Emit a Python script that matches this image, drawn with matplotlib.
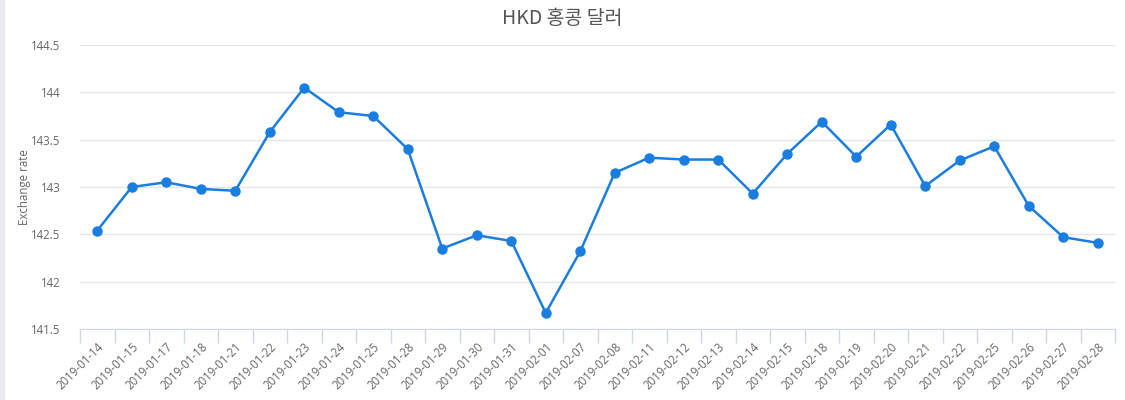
import matplotlib

matplotlib.use("Agg")
import matplotlib.pyplot as plt
from matplotlib.patches import Rectangle

dates = [
    "2019-01-14", "2019-01-15", "2019-01-17", "2019-01-18", "2019-01-21",
    "2019-01-22", "2019-01-23", "2019-01-24", "2019-01-25", "2019-01-28",
    "2019-01-29", "2019-01-30", "2019-01-31", "2019-02-01", "2019-02-07",
    "2019-02-08", "2019-02-11", "2019-02-12", "2019-02-13", "2019-02-14",
    "2019-02-15", "2019-02-18", "2019-02-19", "2019-02-20", "2019-02-21",
    "2019-02-22", "2019-02-25", "2019-02-26", "2019-02-27", "2019-02-28",
]
rates = [
    142.54, 143.00, 143.05, 142.98, 142.96,
    143.58, 144.05, 143.79, 143.75, 143.40,
    142.35, 142.49, 142.43, 141.67, 142.32,
    143.15, 143.31, 143.29, 143.29, 142.93,
    143.35, 143.69, 143.32, 143.66, 143.01,
    143.28, 143.43, 142.80, 142.47, 142.41,
]
yticks = [141.5, 142, 142.5, 143, 143.5, 144, 144.5]
ytick_labels = ["141.5", "142", "142.5", "143", "143.5", "144", "144.5"]

plt.rcParams["font.family"] = ["Open Sans", "Noto Sans CJK KR", "DejaVu Sans"]

fig = plt.figure(figsize=(11.25, 4), dpi=100)
fig.patches.append(Rectangle((0, 0), 4 / 1125, 1, transform=fig.transFigure,
                             color="#ebebef", zorder=0))
ax = fig.add_axes([80 / 1125, 71 / 400, 1035 / 1125, 284 / 400])

x = list(range(len(dates)))
ax.plot(x, rates, color="#1a7de0", lw=1.8, marker="o", ms=6.5, zorder=3)

ax.set_xlim(-0.5, len(dates) - 0.5)
ax.set_ylim(141.5, 144.5)
ax.set_yticks(yticks)
ax.set_yticklabels(ytick_labels)
ax.grid(axis="y", color="#e6e6e6", lw=1)
ax.set_axisbelow(True)

# ticks at category boundaries, labels at category centers
ax.set_xticks([i - 0.5 for i in range(len(dates) + 1)])
ax.set_xticklabels([])
ax.set_xticks(x, minor=True)
ax.set_xticklabels(dates, minor=True, rotation=45, ha="right",
                   rotation_mode="anchor", fontsize=8.3, color="#666666")
ax.tick_params(axis="x", which="major", length=10, color="#ccd6eb", width=1)
ax.tick_params(axis="x", which="minor", length=0, pad=8)
ax.tick_params(axis="y", length=0, labelsize=8.3, labelcolor="#666666", pad=14)

for side in ["top", "right", "left"]:
    ax.spines[side].set_visible(False)
ax.spines["bottom"].set_color("#ccd6eb")

ax.set_ylabel("Exchange rate", fontsize=8.3, color="#666666", labelpad=0)
fig.text(0.5, 0.955, "HKD 홍콩 달러", ha="center", va="center",
         fontsize=14, color="#555555",
         family=["Noto Sans CJK KR", "DejaVu Sans"])

fig.savefig("out.png", dpi=100)
